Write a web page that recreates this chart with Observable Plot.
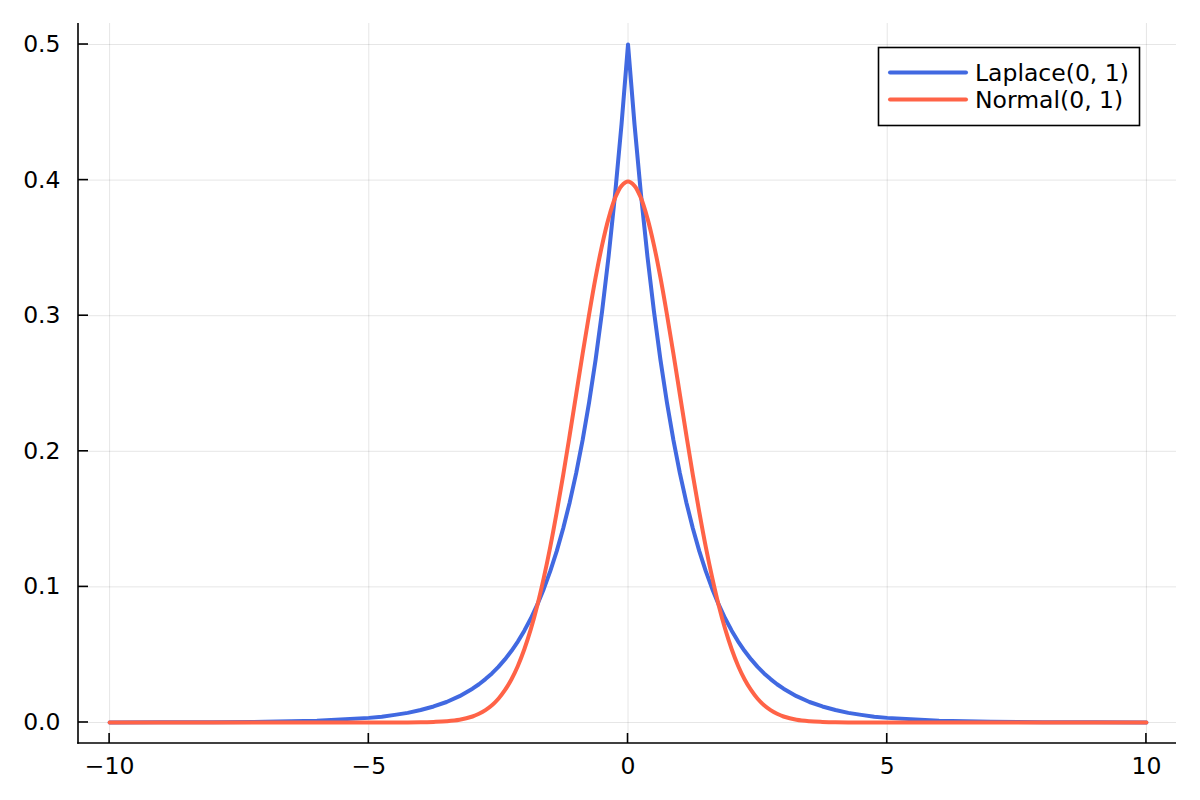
<!DOCTYPE html>
<html>
<head>
<meta charset="utf-8">
<script src="https://cdn.jsdelivr.net/npm/d3@7"></script>
<script src="https://cdn.jsdelivr.net/npm/@observablehq/plot@0.6"></script>
<style>
  html, body { margin: 0; padding: 0; background: #fff; }
  #chart { width: 1200px; height: 800px; }
</style>
</head>
<body>
<div id="chart"></div>
<script>
// x positions sampled along the curves
const xs = [-10, -9, -8, -7, -6, -5, -4.75, -4.5, -4.25, -4, -3.75, -3.5, -3.25, -3,
            -2.875, -2.75, -2.625, -2.5, -2.375, -2.25, -2.125, -2, -1.875, -1.75, -1.625, -1.5, -1.375, -1.25, -1.125, -1,
            -0.875, -0.75, -0.625, -0.5, -0.375, -0.25, -0.125, 0,
            0.125, 0.25, 0.375, 0.5, 0.625, 0.75, 0.875, 1, 1.125, 1.25, 1.375, 1.5, 1.625, 1.75, 1.875, 2,
            2.125, 2.25, 2.375, 2.5, 2.625, 2.75, 2.875, 3,
            3.25, 3.5, 3.75, 4, 4.25, 4.5, 4.75, 5, 6, 7, 8, 9, 10];
// Laplace(0, 1) density values
const laplaceVals = [0.0000, 0.0001, 0.0002, 0.0005, 0.0012, 0.0034, 0.0043, 0.0056, 0.0071, 0.0092, 0.0118, 0.0151, 0.0194, 0.0249,
                     0.0282, 0.0320, 0.0362, 0.0410, 0.0465, 0.0527, 0.0597, 0.0677, 0.0767, 0.0869, 0.0985, 0.1116, 0.1264, 0.1433, 0.1623, 0.1839,
                     0.2084, 0.2362, 0.2676, 0.3033, 0.3436, 0.3894, 0.4412, 0.5000,
                     0.4412, 0.3894, 0.3436, 0.3033, 0.2676, 0.2362, 0.2084, 0.1839, 0.1623, 0.1433, 0.1264, 0.1116, 0.0985, 0.0869, 0.0767, 0.0677,
                     0.0597, 0.0527, 0.0465, 0.0410, 0.0362, 0.0320, 0.0282, 0.0249,
                     0.0194, 0.0151, 0.0118, 0.0092, 0.0071, 0.0056, 0.0043, 0.0034, 0.0012, 0.0005, 0.0002, 0.0001, 0.0000];
// Normal(0, 1) density values
const normalVals = [0, 0, 0, 0, 0, 0.0000, 0.0000, 0.0000, 0.0000, 0.0001, 0.0004, 0.0009, 0.0020, 0.0044,
                    0.0064, 0.0091, 0.0127, 0.0175, 0.0238, 0.0317, 0.0417, 0.0540, 0.0688, 0.0863, 0.1066, 0.1295, 0.1551, 0.1826, 0.2119, 0.2420,
                    0.2721, 0.3011, 0.3282, 0.3521, 0.3718, 0.3867, 0.3958, 0.3989,
                    0.3958, 0.3867, 0.3718, 0.3521, 0.3282, 0.3011, 0.2721, 0.2420, 0.2119, 0.1826, 0.1551, 0.1295, 0.1066, 0.0863, 0.0688, 0.0540,
                    0.0417, 0.0317, 0.0238, 0.0175, 0.0127, 0.0091, 0.0064, 0.0044,
                    0.0020, 0.0009, 0.0004, 0.0001, 0.0000, 0.0000, 0.0000, 0.0000, 0, 0, 0, 0, 0];

const seriesNames = ["Laplace(0, 1)", "Normal(0, 1)"];
const seriesColors = ["#4169E1", "#FF6347"];
const xTicks = [-10, -5, 0, 5, 10];
const yTicks = [0.0, 0.1, 0.2, 0.3, 0.4, 0.5];
const xDomain = [-10.6, 10.58];
const yDomain = [-0.0155, 0.5155];

const laplace = xs.map((x, i) => ({x, y: laplaceVals[i]}));
const normal = xs.map((x, i) => ({x, y: normalVals[i]}));

const fmtX = d => d < 0 ? "\u2212" + Math.abs(d) : String(d);
const font = "DejaVu Sans";
const fs = 23.5;

const plot = Plot.plot({
  width: 1200,
  height: 800,
  marginLeft: 78,
  marginRight: 24,
  marginTop: 23,
  marginBottom: 57,
  style: {fontFamily: font, fontSize: fs + "px", color: "#000", background: "#fff"},
  x: {domain: xDomain},
  y: {domain: yDomain},
  marks: [
    Plot.gridX(xTicks, {stroke: "#000", strokeOpacity: 0.1, strokeWidth: 1}),
    Plot.gridY(yTicks, {stroke: "#000", strokeOpacity: 0.1, strokeWidth: 1}),
    Plot.line(laplace, {x: "x", y: "y", stroke: seriesColors[0], strokeWidth: 4, curve: "linear"}),
    Plot.line(normal, {x: "x", y: "y", stroke: seriesColors[1], strokeWidth: 4, curve: "catmull-rom"}),
    Plot.axisX(xTicks, {anchor: "bottom", tickSize: 0, tickPadding: 14, tickFormat: fmtX, label: null, fontSize: fs}),
    Plot.axisY(yTicks, {anchor: "left", tickSize: 0, tickPadding: 18, tickFormat: d3.format(".1f"), label: null, fontSize: fs})
  ]
});

document.getElementById("chart").appendChild(plot);

(function () {
  const svg = d3.select(plot);
  const sx = plot.scale("x"), sy = plot.scale("y");
  const X = v => sx.apply(v), Y = v => sy.apply(v);
  const pLeft = X(xDomain[0]), pRight = X(xDomain[1]);
  const pBottom = Y(yDomain[0]), pTop = Y(yDomain[1]);

  // axis spines and inward ticks
  const ax = svg.append("g").attr("stroke", "#000").attr("stroke-width", 1.6).attr("fill", "none");
  ax.append("line").attr("x1", pLeft).attr("x2", pLeft).attr("y1", pTop).attr("y2", pBottom + 0.8);
  ax.append("line").attr("x1", pLeft - 0.8).attr("x2", pRight).attr("y1", pBottom).attr("y2", pBottom);
  xTicks.forEach(v => ax.append("line").attr("x1", X(v)).attr("x2", X(v)).attr("y1", pBottom).attr("y2", pBottom - 10));
  yTicks.forEach(v => ax.append("line").attr("x1", pLeft).attr("x2", pLeft + 10).attr("y1", Y(v)).attr("y2", Y(v)));

  // Legend inside the plot area (top right)
  const lg = svg.append("g").attr("font-family", font).attr("font-size", fs).attr("text-anchor", "start");
  lg.append("rect").attr("x", 878.5).attr("y", 47.5).attr("width", 261).attr("height", 78)
    .attr("fill", "#fff").attr("stroke", "#000").attr("stroke-width", 1.6);
  seriesNames.forEach((name, i) => {
    const cy = 72.5 + i * 27;
    lg.append("line").attr("x1", 890).attr("x2", 966).attr("y1", cy).attr("y2", cy)
      .attr("stroke", seriesColors[i]).attr("stroke-width", 4).attr("stroke-linecap", "round");
    lg.append("text").attr("x", 975).attr("y", cy).attr("dy", "0.35em").attr("fill", "#000").text(name);
  });
})();
</script>
</body>
</html>
